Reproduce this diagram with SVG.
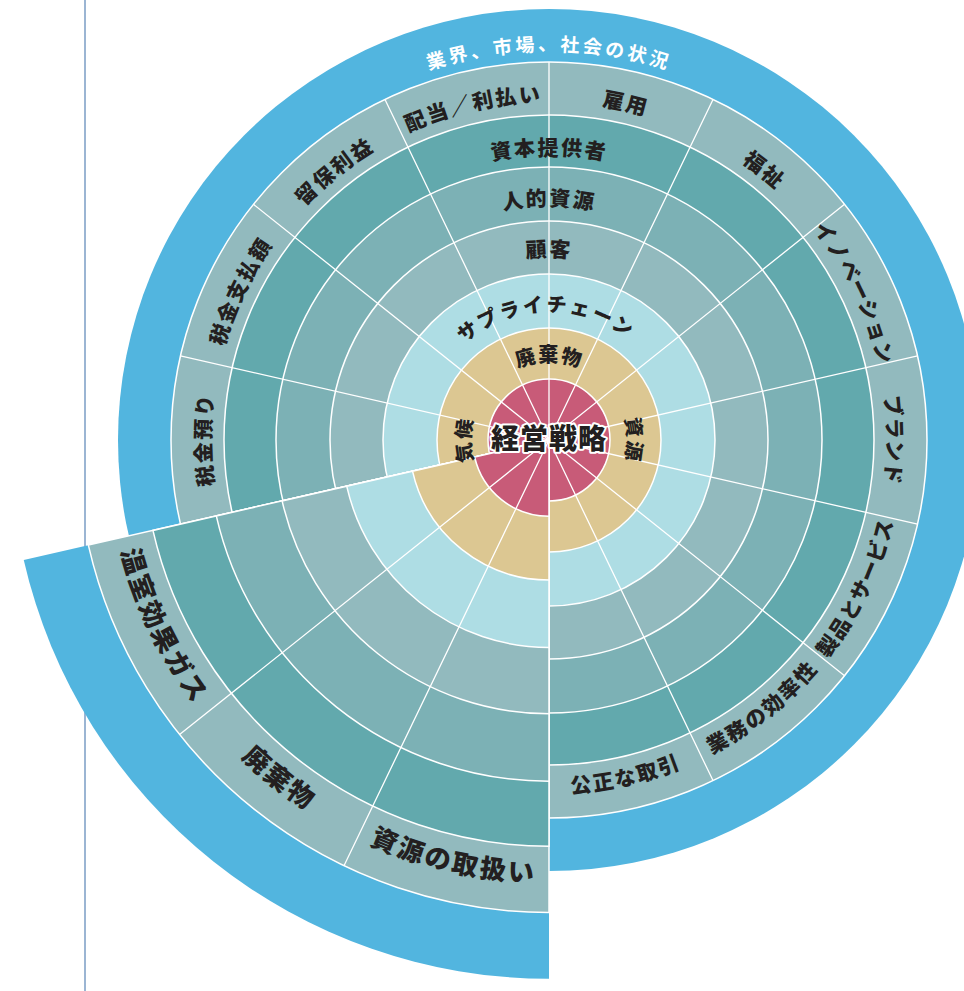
<svg xmlns="http://www.w3.org/2000/svg" width="964" height="991" viewBox="0 0 964 991">
<style>
.edge{stroke:#fff;stroke-width:1.5px;vector-effect:non-scaling-stroke}
.spoke{stroke:#fff;stroke-width:1.3px;vector-effect:non-scaling-stroke;fill:none}
.blue{fill:#52b5df}
.r5{fill:#92babe}
.r4{fill:#62a9ad}
.r3{fill:#7cb1b5}
.r2{fill:#92babe}
.r1{fill:#aedde4}
.tan{fill:#dcc792}
.red{fill:#c85b78}
text{font-family:"Noto Sans CJK JP","Noto Sans",sans-serif;font-weight:900;fill:#231f20;text-anchor:middle}
.s21{font-size:21px;letter-spacing:2px}
.s20{font-size:20px;letter-spacing:2.5px}
.title{fill:#fff;font-size:19px;letter-spacing:3.2px;font-weight:700}
.core{font-size:28px;letter-spacing:1px;stroke:#fff;stroke-width:4px;paint-order:stroke;stroke-linejoin:round}
</style>
<defs>
<path id="p_tan" d="M470.6,440 A78.4,78.4 0 0 1 627.4,440"/>
<path id="p_lb" d="M420.6,440 A128.4,128.4 0 0 1 677.4,440"/>
<path id="p_r2" d="M366,440 A183,183 0 0 1 732,440"/>
<path id="p_r3" d="M315,440 A234,234 0 0 1 783,440"/>
<path id="p_r4" d="M264,440 A285,285 0 0 1 834,440"/>
<path id="p_r5cw" d="M211,440 A338,338 0 0 1 887,440"/>
<path id="p_r5ccw" d="M195,440 A354,354 0 0 0 903,440"/>
<path id="p_title" d="M160.2,440 A388.8,388.8 0 0 1 937.8,440"/>
</defs>

<line id="margin-line" x1="85" y1="0" x2="85" y2="991" stroke="#7a9cc4" stroke-width="1.5"/>

<g id="main-rings">
<circle class="blue" cx="549" cy="440" r="431"/>
<circle class="r5 edge" cx="549" cy="440" r="378"/>
<circle class="r4 edge" cx="549" cy="440" r="325"/>
<circle class="r3 edge" cx="549" cy="440" r="273"/>
<circle class="r2 edge" cx="549" cy="440" r="219"/>
<circle class="r1 edge" cx="549" cy="440" r="166"/>
<circle class="tan edge" cx="549" cy="440" r="112"/>
<circle class="red edge" cx="549" cy="440" r="61"/>
</g>

<g id="connectors">
<path class="spoke" d="M549,440 L549,62 M549,440 L713.01,99.43 M549,440 L844.53,204.32 M549,440 L917.52,355.89 M549,440 L917.52,524.11 M549,440 L844.53,675.68 M549,440 L713.01,780.57 M549,440 L549,818 M549,440 L180.48,524.11 M549,440 L180.48,355.89 M549,440 L253.47,204.32 M549,440 L384.99,99.43"/>
</g>

<g id="exploded-sector" transform="matrix(1.25 0 0 1.25 -137.25 -110)">
<path class="blue" d="M549,440 L549,871 A431,431 0 0 1 128.81,535.91 Z"/>
<path class="r5 edge" d="M549,440 L549,818 A378,378 0 0 1 180.48,524.11 Z"/>
<path class="r4 edge" d="M549,440 L549,765 A325,325 0 0 1 232.15,512.32 Z"/>
<path class="r3 edge" d="M549,440 L549,713 A273,273 0 0 1 282.84,500.75 Z"/>
<path class="r2 edge" d="M549,440 L549,659 A219,219 0 0 1 335.49,488.73 Z"/>
<path class="r1 edge" d="M549,440 L549,606 A166,166 0 0 1 387.16,476.94 Z"/>
<path class="tan edge" d="M549,440 L549,552 A112,112 0 0 1 439.81,464.92 Z"/>
<path class="red edge" d="M549,440 L549,501 A61,61 0 0 1 489.53,453.57 Z"/>
<path class="spoke" d="M549,440 L384.99,780.57 M549,440 L253.47,675.68"/>
<g id="label-resources-handling"><text class="s21" transform="rotate(12.857 549 440)"><textPath href="#p_r5ccw" startOffset="50%">資源の取扱い</textPath></text></g>
<g id="label-waste-outer"><text class="s21" transform="rotate(38.571 549 440)"><textPath href="#p_r5ccw" startOffset="50%">廃棄物</textPath></text></g>
<g id="label-ghg"><text class="s21" transform="rotate(64.286 549 440)"><textPath href="#p_r5ccw" startOffset="50%">温室効果ガス</textPath></text></g>
</g>

<g id="labels">
<g id="title"><text class="title"><textPath href="#p_title" startOffset="50%">業界、市場、社会の状況</textPath></text></g>

<g id="label-waste"><text class="s20" style="letter-spacing:1.5px"><textPath href="#p_tan" startOffset="50%">廃棄物</textPath></text></g>
<g id="label-resources"><text class="s20" style="letter-spacing:2px" transform="rotate(90 549 440)"><textPath href="#p_tan" startOffset="50%">資源</textPath></text></g>
<g id="label-climate"><text class="s20" style="letter-spacing:2px" transform="rotate(-90 549 440)"><textPath href="#p_tan" startOffset="50%">気候</textPath></text></g>

<g id="label-supply"><text class="s20" transform="rotate(-1.5 549 440)"><textPath href="#p_lb" startOffset="50%">サプライチェーン</textPath></text></g>
<g id="label-customer"><text class="s21"><textPath href="#p_r2" startOffset="50%">顧客</textPath></text></g>
<g id="label-human"><text class="s21"><textPath href="#p_r3" startOffset="50%">人的資源</textPath></text></g>
<g id="label-capital"><text class="s21"><textPath href="#p_r4" startOffset="50%">資本提供者</textPath></text></g>

<g id="label-dividend"><text class="s21" transform="rotate(-12.857 549 440)"><textPath href="#p_r5cw" startOffset="50%">配当／利払い</textPath></text></g>
<g id="label-employment"><text class="s21" transform="rotate(12.857 549 440)"><textPath href="#p_r5cw" startOffset="50%">雇用</textPath></text></g>
<g id="label-welfare"><text class="s21" transform="rotate(38.571 549 440)"><textPath href="#p_r5cw" startOffset="50%">福祉</textPath></text></g>
<g id="label-innovation"><text class="s21" style="letter-spacing:1px" transform="rotate(64.286 549 440)"><textPath href="#p_r5cw" startOffset="50%">イノベーション</textPath></text></g>
<g id="label-brand"><text class="s21" style="letter-spacing:1px" transform="rotate(90 549 440)"><textPath href="#p_r5cw" startOffset="50%">ブランド</textPath></text></g>
<g id="label-products"><text class="s21" style="letter-spacing:1px" transform="rotate(-64.286 549 440)"><textPath href="#p_r5ccw" startOffset="50%">製品とサービス</textPath></text></g>
<g id="label-efficiency"><text class="s21" transform="rotate(-38.571 549 440)"><textPath href="#p_r5ccw" startOffset="50%">業務の効率性</textPath></text></g>
<g id="label-fair"><text class="s21" transform="rotate(-12.857 549 440)"><textPath href="#p_r5ccw" startOffset="50%">公正な取引</textPath></text></g>
<g id="label-tax-held"><text class="s21" transform="rotate(-90 549 440)"><textPath href="#p_r5cw" startOffset="50%">税金預り</textPath></text></g>
<g id="label-tax-paid"><text class="s21" transform="rotate(-64.286 549 440)"><textPath href="#p_r5cw" startOffset="50%">税金支払額</textPath></text></g>
<g id="label-retained"><text class="s21" transform="rotate(-38.571 549 440)"><textPath href="#p_r5cw" startOffset="50%">留保利益</textPath></text></g>

<g id="core"><text class="core" x="549" y="449">経営戦略</text></g>
</g>
</svg>
